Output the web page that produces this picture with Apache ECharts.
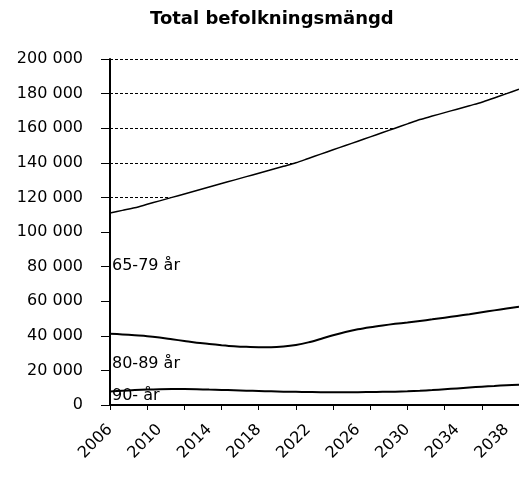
<!DOCTYPE html>
<html>
<head>
<meta charset="utf-8">
<script src="https://cdn.jsdelivr.net/npm/echarts@6/dist/echarts.min.js"></script>
<style>
  html, body { margin: 0; padding: 0; background: #fff; }
  #main { width: 519px; height: 481px; }
</style>
</head>
<body>
<div id="main"></div>
<script>
// 年份
var years = ['2006', '2007', '2008', '2009', '2010', '2011', '2012', '2013', '2014', '2015',
    '2016', '2017', '2018', '2019', '2020', '2021', '2022', '2023', '2024', '2025',
    '2026', '2027', '2028', '2029', '2030', '2031', '2032', '2033', '2034', '2035',
    '2036', '2037', '2038', '2039'];
// 90- år
var age90 = [7800, 8200, 8600, 8900, 9100, 9200, 9200, 9100, 8900, 8700,
    8500, 8300, 8100, 7900, 7700, 7600, 7500, 7400, 7400, 7400,
    7400, 7500, 7600, 7700, 7900, 8200, 8600, 9100, 9600, 10100,
    10600, 11000, 11400, 11700];
// 80-89 år
var age80 = [33400, 32600, 31700, 30900, 29900, 28800, 27800, 26900, 26400, 25900,
    25500, 25300, 25300, 25500, 26100, 27100, 28700, 30800, 32900, 34800,
    36400, 37500, 38400, 39200, 39800, 40400, 40900, 41400, 41900, 42400,
    43000, 43700, 44400, 45100];
// 65-79 år
var age65 = [69800, 71700, 73700, 76200, 79000, 82000, 85000, 88000, 90700, 93400,
    96000, 98400, 100600, 102600, 104200, 105300, 106300, 106800, 107200, 107800,
    108700, 110000, 111500, 113100, 114800, 116400, 117500, 118500, 119500, 120500,
    121400, 122800, 124200, 125700];
// 系列标签 (名称, y位置)
var groupNames = ['90- år', '80-89 år', '65-79 år'];
var groupLabelY = [5500, 24000, 80500];

var font = 'DejaVu Sans';

function makeSeries(name, data, lw, labelIdx) {
    return {
        name: name,
        type: 'line',
        stack: 'total',
        data: data,
        smooth: 0.3,
        symbol: 'none',
        lineStyle: {color: '#000', width: lw},
        areaStyle: {color: '#fff', opacity: 1},   //白色填充, 盖住网格线
        markPoint: {
            symbol: 'rect',
            symbolSize: 0,
            data: [{coord: [0, groupLabelY[labelIdx]]}],
            label: {
                show: true,
                position: 'right',
                distance: 2,
                formatter: groupNames[labelIdx],
                color: '#000',
                fontFamily: font,
                fontSize: 16
            }
        },
        z: 3 - labelIdx
    };
}

var myChart = echarts.init(document.getElementById('main'));
var options = {
    animation: false,
    backgroundColor: '#fff',
    title: {
        text: 'Total befolkningsmängd',
        left: 145,
        top: 5,
        textStyle: {fontFamily: font, fontSize: 18, fontWeight: 'bold', color: '#000'}
    },
    grid: {
        left: 110,
        right: -2,
        top: 59,
        bottom: 76
    },
    xAxis: {
        type: 'category',
        data: years,
        boundaryGap: false,
        z: 10,
        axisLine: {lineStyle: {color: '#000', width: 2}},
        axisTick: {show: true, interval: 2, length: 5, lineStyle: {color: '#000'}},
        axisLabel: {
            interval: 3,
            rotate: 45,
            margin: 22,
            color: '#000',
            fontFamily: font,
            fontSize: 16
        },
        splitLine: {show: false}
    },
    yAxis: [
        // 只画网格线 (在面积下面)
        {
            type: 'value',
            min: 0,
            max: 200000,
            interval: 20000,
            axisLine: {show: false},
            axisTick: {show: false},
            axisLabel: {show: false},
            splitLine: {show: true, lineStyle: {color: '#000', type: [3, 2], width: 1}}
        },
        // 坐标轴, 刻度, 文本 (在面积上面)
        {
            type: 'value',
            position: 'left',
            min: 0,
            max: 200000,
            interval: 20000,
            z: 10,
            axisLine: {show: true, lineStyle: {color: '#000', width: 2}},
            axisTick: {show: true, length: 9, lineStyle: {color: '#000'}},
            axisLabel: {
                margin: 27,
                color: '#000',
                fontFamily: font,
                fontSize: 16,
                formatter: function (v) {
                    return String(v).replace(/\B(?=(\d{3})+(?!\d))/g, ' ');
                }
            },
            splitLine: {show: false}
        }
    ],
    series: [
        makeSeries('90- år', age90, 2, 0),
        makeSeries('80-89 år', age80, 2, 1),
        makeSeries('65-79 år', age65, 1.5, 2)
    ]
};
myChart.setOption(options);
</script>
</body>
</html>
